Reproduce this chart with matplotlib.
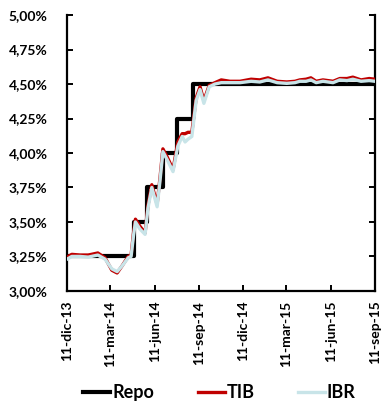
import matplotlib
matplotlib.use("Agg")
import matplotlib.pyplot as plt
import pandas as pd
from matplotlib.ticker import FixedLocator, FuncFormatter

# ---- data ----
repo_dates = ["2013-12-11", "2014-04-28", "2014-05-26", "2014-06-28",
              "2014-07-28", "2014-08-30", "2015-09-11"]
repo_vals = [3.25, 3.50, 3.75, 4.00, 4.25, 4.50, 4.50]

rate_dates = ["2013-12-11", "2013-12-21", "2014-01-07", "2014-01-24", "2014-02-13",
              "2014-02-28", "2014-03-14", "2014-03-25", "2014-04-04", "2014-04-17",
              "2014-04-23", "2014-04-28", "2014-05-02", "2014-05-11", "2014-05-22",
              "2014-05-28", "2014-06-05", "2014-06-16", "2014-06-22", "2014-06-28",
              "2014-07-07", "2014-07-19", "2014-07-29", "2014-08-07", "2014-08-13",
              "2014-08-19", "2014-08-27", "2014-09-05", "2014-09-13", "2014-09-21",
              "2014-10-02", "2014-10-14", "2014-10-27", "2014-11-14", "2014-12-05",
              "2014-12-28", "2015-01-15", "2015-02-01", "2015-02-20", "2015-03-12",
              "2015-03-29", "2015-04-08", "2015-04-21", "2015-05-01", "2015-05-12",
              "2015-05-26", "2015-06-16", "2015-06-30", "2015-07-15", "2015-07-27",
              "2015-08-13", "2015-08-30", "2015-09-11"]
tib_vals = [3.245, 3.265, 3.26, 3.26, 3.275,
            3.24, 3.15, 3.13, 3.18, 3.25,
            3.26, 3.42, 3.52, 3.47, 3.42,
            3.62, 3.77, 3.63, 3.82, 4.03,
            3.97, 3.88, 4.08, 4.14, 4.14,
            4.15, 4.15, 4.40, 4.48, 4.38,
            4.49, 4.51, 4.53, 4.52, 4.52,
            4.535, 4.53, 4.545, 4.52, 4.515,
            4.52, 4.53, 4.535, 4.545, 4.52,
            4.53, 4.52, 4.54, 4.54, 4.55,
            4.53, 4.54, 4.535]
ibr_vals = [3.23, 3.25, 3.25, 3.245, 3.26,
            3.23, 3.16, 3.14, 3.18, 3.24,
            3.25, 3.40, 3.50, 3.45, 3.41,
            3.60, 3.75, 3.61, 3.80, 4.01,
            3.95, 3.865, 4.05, 4.12, 4.08,
            4.10, 4.12, 4.38, 4.46, 4.36,
            4.48, 4.50, 4.51, 4.51, 4.51,
            4.52, 4.515, 4.53, 4.51, 4.505,
            4.51, 4.52, 4.52, 4.53, 4.51,
            4.52, 4.51, 4.53, 4.525, 4.535,
            4.52, 4.525, 4.52]

tick_dates = ["2013-12-11", "2014-03-11", "2014-06-11", "2014-09-11", "2014-12-11",
              "2015-03-11", "2015-06-11", "2015-09-11"]
tick_labels = ["11-dic-13", "11-mar-14", "11-jun-14", "11-sep-14", "11-dic-14",
               "11-mar-15", "11-jun-15", "11-sep-15"]
y_ticks = [3.00, 3.25, 3.50, 3.75, 4.00, 4.25, 4.50, 4.75, 5.00]

# ---- plot ----
plt.rcParams['font.family'] = ['Lato', 'DejaVu Sans']
plt.rcParams['font.weight'] = 'bold'

fig = plt.figure(figsize=(3.85, 4.08), dpi=100)
ax = fig.add_axes([0.174, 0.287, 0.800, 0.676])

rd = pd.to_datetime(repo_dates)
td = pd.to_datetime(rate_dates)
ax.step(rd, repo_vals, where="post", color="black", lw=3.0, label="Repo", zorder=2)
ax.plot(td, tib_vals, color="#c00000", lw=2.4, label="TIB", zorder=3)
ax.plot(td, ibr_vals, color="#c8e4e8", lw=2.4, label="IBR", zorder=4)

ax.set_ylim(3.0, 5.0)
ax.set_xlim(pd.Timestamp("2013-12-11"), pd.Timestamp("2015-09-11"))
ax.yaxis.set_major_locator(FixedLocator(y_ticks))
ax.yaxis.set_major_formatter(FuncFormatter(lambda v, p: f"{v:.2f}".replace(".", ",") + "%"))
ax.set_xticks(pd.to_datetime(tick_dates))
ax.set_xticklabels(tick_labels, rotation=90, fontsize=10, fontweight="bold")
for t in ax.get_yticklabels():
    t.set_fontsize(10)
    t.set_fontweight("bold")

for s in ["left", "bottom", "right"]:
    ax.spines[s].set_linewidth(1.6)
ax.spines["top"].set_visible(False)
ax.tick_params(axis="both", direction="in", length=4, width=1.4)
ax.tick_params(axis="y", right=True, pad=14)
ax.tick_params(axis="x", pad=7)

fig.legend(loc="center", bbox_to_anchor=(0.57, 0.037), ncol=3, frameon=False,
           handlelength=1.5, handletextpad=0.1, columnspacing=2.4,
           prop={"weight": "bold", "size": 13})

fig.savefig("out.png", dpi=100)
